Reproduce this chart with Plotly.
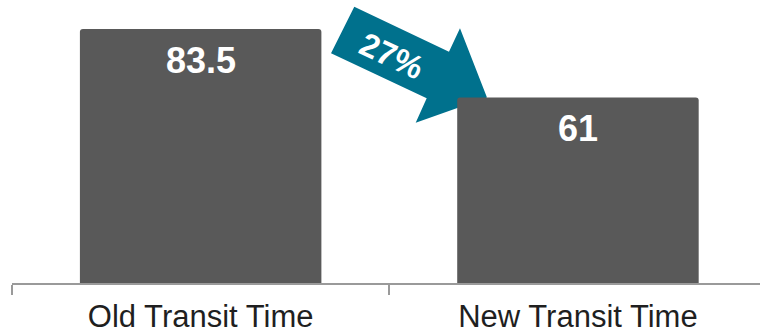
import plotly.graph_objects as go

categories = ["Old Transit Time", "New Transit Time"]
values = [83.5, 61]
value_labels = ["83.5", "61"]
change_label = "27%"

BAR_COLOR = "#595959"
TEAL = "#00718D"
W, H = 760, 333
ML, MR, MT, MB = 12, 0, 0, 50
PW, PH = W - ML - MR, H - MT - MB

def px2paper(x, y):
    return (x - ML) / PW, (H - MB - y) / PH

fig = go.Figure()
fig.add_trace(go.Bar(
    x=categories, y=values,
    marker=dict(color=BAR_COLOR, line=dict(width=0), cornerradius=3),
    hoverinfo="skip",
))

for c, v, t in zip(categories, values, value_labels):
    fig.add_annotation(x=c, y=v, text=t, showarrow=False, yanchor="middle",
                       yshift=-31,
                       font=dict(family="Liberation Sans", size=36, color="white", weight="bold"))

# arrow decoration
pts = [(354.3, 6.7), (449, 51.7), (460, 28.3), (487, 97.5), (415.7, 122.7),
       (426.7, 98.3), (331, 53.3)]
pp = [px2paper(x, y) for x, y in pts]
path = "M " + " L ".join(f"{x:.4f},{y:.4f}" for x, y in pp) + " Z"
fig.add_shape(type="path", path=path, xref="paper", yref="paper",
              fillcolor=TEAL, line=dict(width=0), layer="below")
tx, ty = px2paper(391.5, 55)
fig.add_annotation(x=tx, y=ty, xref="paper", yref="paper", text=change_label,
                   showarrow=False, textangle=25, xanchor="center", yanchor="middle",
                   font=dict(family="Liberation Sans", size=33, color="white", weight="bold"))

fig.update_layout(
    width=W, height=H,
    margin=dict(l=ML, r=MR, t=MT, b=MB),
    paper_bgcolor="white", plot_bgcolor="white",
    showlegend=False, bargap=0.36,
    xaxis=dict(type="category", range=[-0.5, -0.5 + PW / 377.3],
               tickson="boundaries", ticks="outside", ticklen=10, tickwidth=1.5,
               tickcolor="#9a9a9a", showline=True, linecolor="#9a9a9a", linewidth=1.5,
               showgrid=False, layer="below traces", ticklabelstandoff=5,
               tickfont=dict(family="Liberation Sans", size=31, color="#1f1f1f")),
    yaxis=dict(range=[0, PH / 3.0419], visible=False, showgrid=False, zeroline=False),
)

fig.write_html("out.html")
